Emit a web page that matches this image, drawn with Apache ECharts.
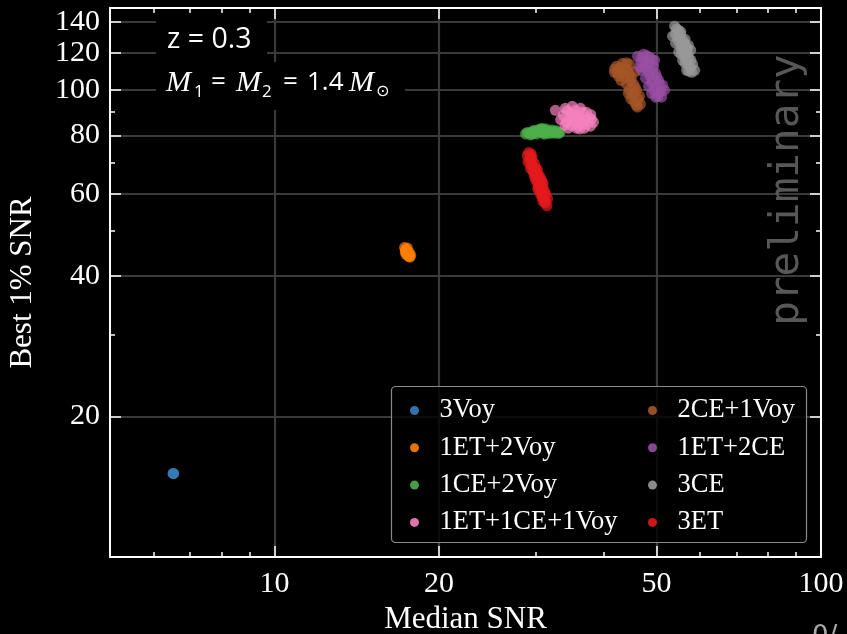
<!DOCTYPE html>
<html>
<head>
<meta charset="utf-8">
<script src="https://cdn.jsdelivr.net/npm/echarts@6/dist/echarts.min.js"></script>
<style>
  html, body { margin: 0; padding: 0; background: #000; }
  #chart { width: 847px; height: 634px; }
</style>
</head>
<body>
<div id="chart"></div>
<script>
// Median SNR vs best-1% SNR for each detector network, BNS at z = 0.3
const seriesNames = ['3Voy', '1ET+2Voy', '1CE+2Voy', '1ET+1CE+1Voy',
                     '2CE+1Voy', '1ET+2CE', '3CE', '3ET'];
const seriesColors = ['#377eb8', '#ff7f00', '#4daf4a', '#f781bf',
                      '#a65628', '#984ea3', '#999999', '#e41a1c'];

// [median SNR, best 1% SNR]
const pts3Voy = [[6.53, 15.1], [6.52, 15.1], [6.54, 15.08]];
const pts1ET2Voy = [[17.3, 46.0], [17.4, 45.6], [17.5, 45.2], [17.45, 44.8], [17.6, 44.6],
  [17.55, 44.2], [17.7, 43.9], [17.35, 45.0], [17.65, 44.9], [17.5, 45.9], [17.75, 44.3], [17.4, 44.5],
  [17.38, 45.4], [17.62, 44.0]];
const pts1CE2Voy = [[28.8, 80.6], [29.2, 81.0], [29.6, 81.4], [30.0, 81.8], [30.4, 82.2], [30.8, 82.4],
  [31.2, 82.0], [31.6, 81.8], [32.0, 81.6], [32.5, 81.5], [33.0, 81.4], [33.3, 81.2], [29.4, 80.2],
  [30.2, 80.6], [31.0, 80.9], [31.8, 80.8], [32.6, 80.9], [30.6, 81.4], [31.4, 81.2], [29.9, 80.9], [30.9, 82.8],
  [29.0, 81.2], [29.8, 82.0], [30.6, 82.6], [31.4, 82.6], [32.2, 82.2], [32.8, 81.9], [29.6, 80.5],
  [31.2, 80.5], [32.2, 81.0], [33.1, 80.8]];
const pts1ET1CE1Voy = [[32.65, 90.55], [34.05, 91.45], [35.08, 92.35], [36.29, 91.45], [37.22, 89.67],
  [33.76, 88.36], [34.79, 89.23], [35.98, 88.36], [37.53, 87.07], [38.33, 85.38], [34.2, 85.38],
  [35.38, 85.8], [36.59, 85.38], [37.85, 83.72], [34.49, 82.9], [35.68, 82.9], [36.9, 82.9],
  [34.79, 87.07], [36.29, 86.22], [37.22, 84.54], [35.53, 90.55],
  [33.4, 86.5], [34.0, 84.2], [35.0, 84.0], [36.0, 84.2], [37.0, 86.0], [38.0, 86.8], [35.2, 88.5],
  [36.6, 89.8], [34.3, 90.3], [37.9, 88.6], [36.2, 82.6], [35.0, 86.0], [36.0, 87.5]];
const pts2CE1Voy = [[42.24, 112.5], [43.33, 114.2], [44.62, 113.6], [41.88, 109.2], [42.96, 110.3],
  [44.25, 110.3], [43.7, 106.6], [45.0, 106.6], [44.06, 103.0], [45.39, 103.0], [44.62, 100.0],
  [45.97, 100.0], [45.19, 97.1], [46.55, 97.1], [45.58, 94.3], [46.75, 93.4], [46.16, 92.0],
  [42.6, 107.1], [45.77, 109.8],
  [42.9, 112.0], [43.9, 111.5], [41.9, 111.0], [43.3, 108.5], [44.6, 108.0], [43.1, 104.9],
  [44.9, 104.6], [45.7, 101.5], [44.4, 98.5], [45.6, 98.6], [46.3, 95.6], [44.9, 95.7], [45.9, 92.8],
  [44.1, 114.5], [42.4, 108.9]];
const pts1ET2CE = [[46.16, 118.2], [47.34, 119.4], [48.56, 117.7], [49.6, 115.9], [46.75, 114.8],
  [48.15, 114.2], [49.39, 112.5], [46.95, 110.3], [48.35, 109.8], [49.81, 108.7], [47.74, 106.1],
  [49.17, 105.1], [50.44, 105.1], [48.35, 102.0], [49.81, 101.5], [51.3, 102.5], [48.97, 98.5],
  [50.44, 98.5], [51.74, 100.0], [49.81, 96.6], [51.09, 96.6], [47.54, 112.5],
  [47.0, 117.5], [48.0, 118.6], [49.0, 116.5], [47.6, 116.0], [48.6, 114.5], [47.7, 111.5],
  [49.0, 110.8], [48.6, 107.4], [50.0, 106.9], [49.0, 103.6], [50.6, 103.4], [49.5, 99.9],
  [50.9, 99.6], [50.3, 96.9], [46.6, 112.0]];
const pts3CE = [[53.96, 137.1], [54.89, 134.4], [53.5, 130.5], [54.65, 130.5], [55.83, 128.0],
  [54.19, 126.1], [55.36, 124.3], [56.78, 123.6], [57.75, 121.8], [54.89, 120.6], [56.3, 119.4],
  [57.27, 117.1], [55.83, 115.9], [57.02, 113.6], [58.24, 113.6], [56.78, 110.3], [58.0, 109.2],
  [58.74, 110.3], [55.36, 132.0], [56.3, 126.0],
  [54.4, 135.4], [55.4, 133.4], [54.1, 132.0], [55.1, 129.2], [56.4, 128.5], [54.8, 127.5],
  [55.7, 125.6], [57.2, 124.7], [55.6, 122.0], [56.9, 121.7], [55.5, 119.3], [57.0, 119.3],
  [56.5, 117.0], [57.8, 116.0], [56.4, 114.2], [57.7, 111.9], [57.3, 109.9]];
const pts3ET = [[29.2, 73.5], [29.4, 72.3], [29.3, 71.0], [29.6, 70.5], [29.5, 69.2], [29.8, 68.6],
  [29.7, 67.4], [30.0, 67.0], [30.2, 66.2], [29.9, 65.6], [30.3, 65.0], [30.5, 64.3], [30.2, 63.6],
  [30.6, 63.0], [30.4, 62.2], [30.8, 61.6], [30.6, 60.8], [30.9, 60.2], [31.1, 59.4], [30.9, 58.9],
  [31.2, 58.2], [31.3, 57.4], [31.5, 56.5], [29.5, 73.0], [30.1, 68.0], [30.7, 64.8], [31.0, 62.0],
  [29.0, 72.5], [29.6, 71.8], [29.1, 70.1], [29.9, 69.7], [29.4, 68.0], [30.3, 67.6], [29.8, 66.4],
  [30.5, 65.7], [30.0, 64.5], [30.8, 64.0], [30.5, 62.8], [31.0, 63.2], [30.3, 61.5], [31.2, 60.8],
  [30.7, 59.7], [31.4, 59.8], [31.0, 57.7], [31.6, 58.5]];
const seriesPoints = [pts3Voy, pts1ET2Voy, pts1CE2Voy, pts1ET1CE1Voy, pts2CE1Voy, pts1ET2CE, pts3CE, pts3ET];

// Axis ranges and ticks (log scale)
const xRange = [5, 100];
const yRange = [10, 150];
const xMajorTicks = [10, 20, 50, 100];
const xMinorTicks = [6, 7, 8, 9, 30, 40, 60, 70, 80, 90];
const yMajorTicks = [20, 40, 60, 80, 100, 120, 140];
const yMinorTicks = [30, 50, 70, 90];

const lg = Math.log10;
const serif = '"Liberation Serif", "Times New Roman", serif';
const sans = '"Open Sans", "DejaVu Sans", sans-serif';

function logAxis(range, position, ticks, tickLen, extra) {
  return Object.assign({
    type: 'value',
    position: position,
    min: lg(range[0]),
    max: lg(range[1]),
    axisLine: { show: false },
    axisTick: { show: true, inside: true, length: tickLen,
      lineStyle: { color: '#fff', width: 1.5 },
      customValues: ticks.map(lg) },
    axisLabel: { show: false },
    splitLine: { show: false }
  }, extra || {});
}
const fmt = v => String(Math.round(Math.pow(10, v)));
const gridLine = { show: true, lineStyle: { color: '#3a3a3a', width: 2.2 } };
const boxLine = { show: true, lineStyle: { color: '#fff', width: 2 } };

const xAxes = [
  logAxis(xRange, 'bottom', xMajorTicks, 11, {
    axisLine: boxLine,
    splitLine: gridLine,
    axisLabel: { show: true, customValues: xMajorTicks.map(lg), formatter: fmt,
      color: '#fff', fontFamily: serif, fontSize: 30, margin: 12 },
    name: 'Median SNR', nameLocation: 'middle', nameGap: 46,
    nameTextStyle: { color: '#fff', fontFamily: serif, fontSize: 31 }
  }),
  logAxis(xRange, 'bottom', xMinorTicks, 5),
  logAxis(xRange, 'top', xMajorTicks, 11, { axisLine: boxLine }),
  logAxis(xRange, 'top', xMinorTicks, 5)
];
const yAxes = [
  logAxis(yRange, 'left', yMajorTicks, 11, {
    axisLine: boxLine,
    splitLine: gridLine,
    axisLabel: { show: true, customValues: yMajorTicks.map(lg), formatter: fmt,
      color: '#fff', fontFamily: serif, fontSize: 30, margin: 10 },
    name: 'Best 1% SNR', nameLocation: 'middle', nameGap: 72,
    nameTextStyle: { color: '#fff', fontFamily: serif, fontSize: 31 }
  }),
  logAxis(yRange, 'left', yMinorTicks, 5),
  logAxis(yRange, 'right', yMajorTicks, 11, { axisLine: boxLine }),
  logAxis(yRange, 'right', yMinorTicks, 5)
];

const series = seriesNames.map((name, i) => ({
  name: name,
  type: 'scatter',
  xAxisIndex: 0,
  yAxisIndex: 0,
  symbol: 'circle',
  symbolSize: 11,
  itemStyle: { color: seriesColors[i], opacity: 0.7 },
  data: seriesPoints[i].map(p => [lg(p[0]), lg(p[1])])
}));

const legendCommon = {
  orient: 'vertical',
  padding: 0,
  itemWidth: 40,
  itemHeight: 9,
  itemGap: 10.3,
  icon: 'circle',
  itemStyle: { opacity: 0.9 },
  textStyle: { color: '#fff', fontFamily: serif, fontSize: 26.5 },
  z: 6
};

const chart = echarts.init(document.getElementById('chart'));
chart.setOption({
  backgroundColor: '#000',
  animation: false,
  grid: { left: 110, right: 26, top: 8, bottom: 77, containLabel: false, outerBoundsMode: 'none' },
  xAxis: xAxes,
  yAxis: yAxes,
  legend: [
    Object.assign({ left: 410, top: 397, data: seriesNames.slice(0, 4) }, legendCommon),
    Object.assign({ left: 648, top: 397, data: seriesNames.slice(4) }, legendCommon)
  ],
  series: series,
  graphic: [
    // legend frame
    { type: 'rect', z: 5, shape: { x: 391.5, y: 386.5, width: 415, height: 156, r: 4 },
      style: { fill: 'rgba(0,0,0,0.8)', stroke: '#8a8a8a', lineWidth: 1.2 } },
    // annotation backgrounds
    { type: 'rect', z: 5, shape: { x: 156, y: 15, width: 111, height: 47 }, style: { fill: '#000' } },
    { type: 'rect', z: 5, shape: { x: 156, y: 62, width: 249, height: 48 }, style: { fill: '#000' } },
    { type: 'text', z: 6, x: 167, y: 40,
      style: { text: 'z = 0.3', fill: '#fff', font: '28.5px ' + sans, verticalAlign: 'middle' } },
    // M_1 = M_2 = 1.4 M_sun
    { type: 'text', z: 6, x: 166, y: 83, style: { text: 'M', fill: '#fff', font: 'italic 30px ' + serif, verticalAlign: 'middle' } },
    { type: 'text', z: 6, x: 194, y: 92, style: { text: '1', fill: '#fff', font: '17px ' + sans, verticalAlign: 'middle' } },
    { type: 'text', z: 6, x: 211, y: 83, style: { text: '=', fill: '#fff', font: '26px ' + sans, verticalAlign: 'middle' } },
    { type: 'text', z: 6, x: 236, y: 83, style: { text: 'M', fill: '#fff', font: 'italic 30px ' + serif, verticalAlign: 'middle' } },
    { type: 'text', z: 6, x: 262, y: 92, style: { text: '2', fill: '#fff', font: '17px ' + sans, verticalAlign: 'middle' } },
    { type: 'text', z: 6, x: 283, y: 83, style: { text: '=', fill: '#fff', font: '26px ' + sans, verticalAlign: 'middle' } },
    { type: 'text', z: 6, x: 307, y: 83, style: { text: '1.4', fill: '#fff', font: '26px ' + sans, verticalAlign: 'middle' } },
    { type: 'text', z: 6, x: 349, y: 83, style: { text: 'M', fill: '#fff', font: 'italic 30px ' + serif, verticalAlign: 'middle' } },
    { type: 'text', z: 6, x: 376, y: 92, style: { text: '\u2299', fill: '#fff', font: '16px "DejaVu Sans", sans-serif', verticalAlign: 'middle' } },
    // watermark
    { type: 'text', z: 3, x: 787, y: 190, rotation: Math.PI / 2,
      style: { text: 'preliminary', fill: '#575757', font: '41px "DejaVu Sans Mono", monospace',
        align: 'center', verticalAlign: 'middle' } },
    { type: 'text', z: 6, left: 812, top: 624,
      style: { text: '0/', fill: '#aaaaaa', font: '26px "DejaVu Sans", sans-serif' } }
  ]
});
</script>
</body>
</html>
